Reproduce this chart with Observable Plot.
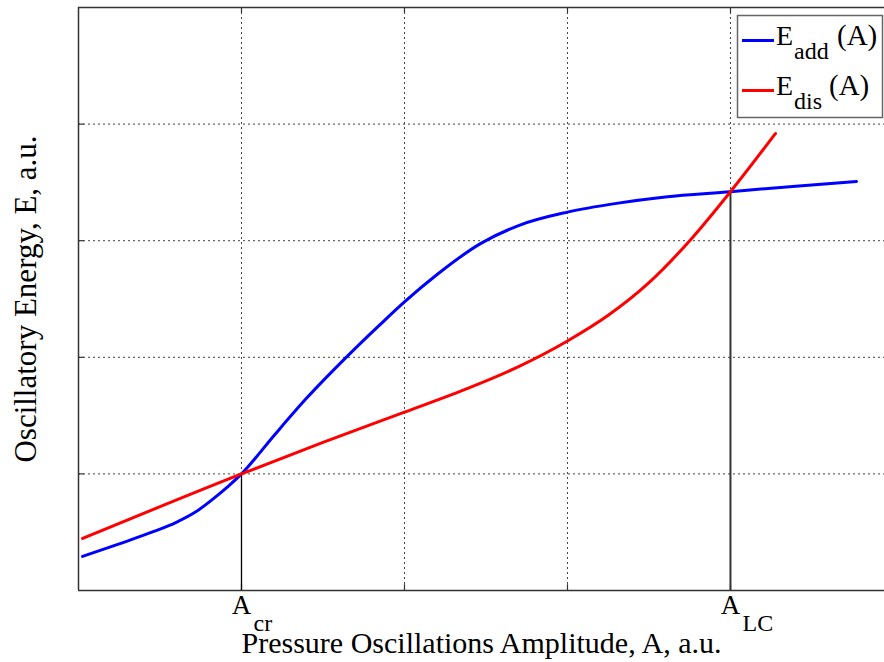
<!DOCTYPE html>
<html>
<head>
<meta charset="utf-8">
<script src="https://cdn.jsdelivr.net/npm/d3@7"></script>
<script src="https://cdn.jsdelivr.net/npm/@observablehq/plot@0.6"></script>
<style>
  html, body { margin: 0; padding: 0; background: #fff; overflow: hidden; }
</style>
</head>
<body>
<div id="chart"></div>
<script>
// ---- data ----
const gridXTicks = [1, 2, 3, 4];
const gridYTicks = [1, 2, 3, 4];

const addX = [0.025, 0.25, 0.45, 0.60, 0.72, 0.83, 0.92, 1.0, 1.2, 1.4, 1.65, 1.85, 2.0, 2.2, 2.466, 2.7, 3.0, 3.3, 3.6, 4.0, 4.4, 4.773];
const addY = [0.292, 0.40, 0.50, 0.585, 0.675, 0.79, 0.895, 1.0, 1.33, 1.65, 2.01, 2.28, 2.475, 2.71, 2.975, 3.13, 3.245, 3.32, 3.375, 3.42, 3.468, 3.508];

const disX = [0.025, 1.0, 1.5, 2.0, 2.4, 2.7, 3.0, 3.25, 3.5, 3.75, 4.0, 4.276];
const disY = [0.446, 1.0, 1.27, 1.53, 1.74, 1.92, 2.14, 2.36, 2.64, 3.0, 3.42, 3.919];

const crossX = [1, 4];
const crossY = [1, 3.42];
const crossWidth = [1.3, 2];
const crossColor = ["#000000", "#333333"];

const tickMain = ["A", "A"];
const tickSub = ["cr", "LC"];

const xLabel = "Pressure Oscillations Amplitude, A, a.u.";
const yLabel = "Oscillatory Energy, E, a.u.";

const seriesNames = ["add", "dis"];
const seriesColors = ["#0000ff", "#ff0000"];

// ---- tables ----
const addData = addX.map((x, i) => ({x, y: addY[i]}));
const disData = disX.map((x, i) => ({x, y: disY[i]}));
const crossings = crossX.map((x, i) => ({x, y: crossY[i], w: crossWidth[i], c: crossColor[i], main: tickMain[i], sub: tickSub[i]}));

const gridStyle = {stroke: "#444", strokeOpacity: 1, strokeWidth: 1, strokeDasharray: "2,3"};
const frameStroke = "#333";
const serif = "'Liberation Serif', 'Times New Roman', serif";

const chart = Plot.plot({
  width: 884,
  height: 662,
  marginTop: 7,
  marginRight: 0,
  marginBottom: 72,
  marginLeft: 78,
  style: {fontFamily: serif, background: "#fff", overflow: "visible"},
  x: {domain: [0, 4.945], axis: null},
  y: {domain: [0, 5], axis: null},
  marks: [
    Plot.ruleX(gridXTicks, {...gridStyle}),
    Plot.ruleY(gridYTicks, {...gridStyle}),
    // frame
    Plot.ruleX([0], {stroke: frameStroke, strokeWidth: 1.5}),
    Plot.ruleY([0, 5], {stroke: frameStroke, strokeWidth: 1.5}),
    // inward ticks
    Plot.ruleX(gridXTicks, {y1: d => 0, y2: d => 0.05, stroke: frameStroke, strokeWidth: 1.2}),
    Plot.ruleX(gridXTicks, {y1: d => 5, y2: d => 4.95, stroke: frameStroke, strokeWidth: 1.2}),
    Plot.ruleY(gridYTicks, {x1: d => 0, x2: d => 0.037, stroke: frameStroke, strokeWidth: 1.2}),
    // drop lines
    Plot.ruleX(crossings, {x: "x", y1: d => 0, y2: "y", stroke: "c", strokeWidth: "w"}),
    // curves
    Plot.line(addData, {x: "x", y: "y", stroke: seriesColors[0], strokeWidth: 3, curve: "monotone-x"}),
    Plot.line(disData, {x: "x", y: "y", stroke: seriesColors[1], strokeWidth: 3, curve: "monotone-x"}),
    // tick labels
    Plot.text(crossings, {x: "x", y: d => 0, text: "main", fontSize: 27, textAnchor: "middle", lineAnchor: "bottom", dy: 23, fill: "#000"}),
    Plot.text(crossings, {x: "x", y: d => 0, text: "sub", fontSize: 24, textAnchor: "start", lineAnchor: "bottom", dx: 12, dy: 40, fill: "#000"}),
    // axis labels
    Plot.text([xLabel], {frameAnchor: "bottom", lineAnchor: "bottom", textAnchor: "middle", dy: 62, fontSize: 30, fill: "#000"}),
    Plot.text([yLabel], {frameAnchor: "left", lineAnchor: "bottom", textAnchor: "middle", rotate: -90, dx: -43, fontSize: 31, fill: "#000"})
  ]
});

// ---- legend ----
const svg = d3.select(chart);
const lg = svg.append("g").attr("font-family", serif).attr("fill", "#000").attr("text-anchor", "start");
lg.append("rect").attr("x", 737.5).attr("y", 15.5).attr("width", 145).attr("height", 102)
  .attr("fill", "#fff").attr("stroke", "#666").attr("stroke-width", 1.5);
seriesNames.forEach((name, i) => {
  const base = 45 + i * 50;
  lg.append("line").attr("x1", 742).attr("x2", 774).attr("y1", base - 4.5).attr("y2", base - 4.5)
    .attr("stroke", seriesColors[i]).attr("stroke-width", 3);
  lg.append("text").attr("x", 776).attr("y", base).attr("font-size", 28).text("E");
  lg.append("text").attr("x", 794).attr("y", base + 13.5).attr("font-size", 24).text(name);
  lg.append("text").attr("x", i === 0 ? 837 : 829).attr("y", base).attr("font-size", 29).text("(A)");
});

document.getElementById("chart").appendChild(chart);
</script>
</body>
</html>
